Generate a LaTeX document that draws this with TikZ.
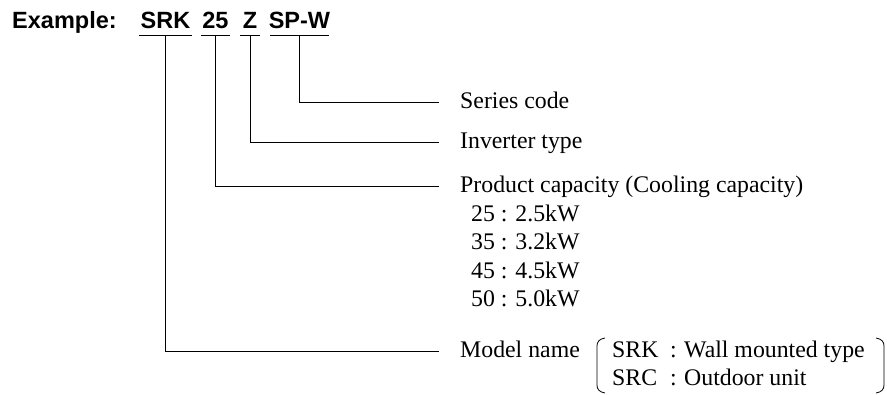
\documentclass[tikz,border=0pt]{standalone}
\usepackage{fontspec}
\setmainfont{Liberation Serif}
\newfontfamily\headfont{Liberation Sans}
\usetikzlibrary{positioning}

\tikzset{
  head/.style={inner sep=0pt,anchor=base,font=\headfont\bfseries\fontsize{23.5}{28}\selectfont},
  desc/.style={inner sep=0pt,anchor=west,text height=16pt,text depth=3pt,font=\fontsize{23.8}{28.5}\selectfont},
  entry/.style={inner sep=0pt,anchor=base west,font=\fontsize{23.8}{28.5}\selectfont},
  wire/.style={line width=0.8pt},
}

\begin{document}
\begin{tikzpicture}[x=1pt,y=-1pt]
\useasboundingbox (0,0) rectangle (887,394);
%
  \node[head,anchor=base west] (ex) at (12,28) {Example:};
  \node[head] (srk) at (165.5,28) {SRK};
  \node[head] (cap) at (215.5,28) {25};
  \node[head] (inv) at (250,28) {Z};
  \node[head] (ser) at (299.5,28) {SP-W};
%
  \foreach \n/\w in {srk/26.5,cap/14.5,inv/10,ser/29.5}
    \draw[wire] ([shift={(-\w pt,-7pt)}]\n.base) -- ([shift={(\w pt,-7pt)}]\n.base);
%
  \coordinate (e1) at (439,102);
  \coordinate (e2) at (439,142);
  \coordinate (e3) at (439,186);
  \coordinate (e4) at (439,351);
%
  \node[desc,right=21pt of e1] (tser) {Series code};
  \node[desc,right=21pt of e2] (tinv) {Inverter type};
  \node[desc,right=21pt of e3] (tcap) {Product capacity (Cooling capacity)};
  \node[desc,right=21pt of e4] (tsrk) {Model name};
%
  \foreach \v/\p [count=\i] in {25/2.5,35/3.2,45/4.5,50/5.0}
    \node[entry] (kw\i) at (471,{192.5+28.5*\i}) {\v{} : \p kW};
%
  \node[entry] (wm) at (612,357) {SRK};
  \node[entry] (ou) at (612,385.5) {SRC};
  \node[entry] (wmc) at (670,357) {:};
  \node[entry] (ouc) at (670,385.5) {:};
  \node[entry] (wmt) at (684,357) {Wall mounted type};
  \node[entry] (out) at (684,385.5) {Outdoor unit};
%
  \draw[wire] ([yshift=-7pt]ser.base) |- ([xshift=-21pt]tser.west);
  \draw[wire] ([yshift=-7pt]inv.base) |- ([xshift=-21pt]tinv.west);
  \draw[wire] ([yshift=-7pt]cap.base) |- ([xshift=-21pt]tcap.west);
  \draw[wire] ([yshift=-7pt]srk.base) |- ([xshift=-21pt]tsrk.west);
%
  \draw[wire] (605,338) .. controls (599,339) and (597,342) .. (597,346)
    -- (597,385) .. controls (597,389) and (599,392) .. (605,393);
  \draw[wire] (876,338) .. controls (882,339) and (884,342) .. (884,346)
    -- (884,385) .. controls (884,389) and (882,392) .. (876,393);
%
\end{tikzpicture}
\end{document}
